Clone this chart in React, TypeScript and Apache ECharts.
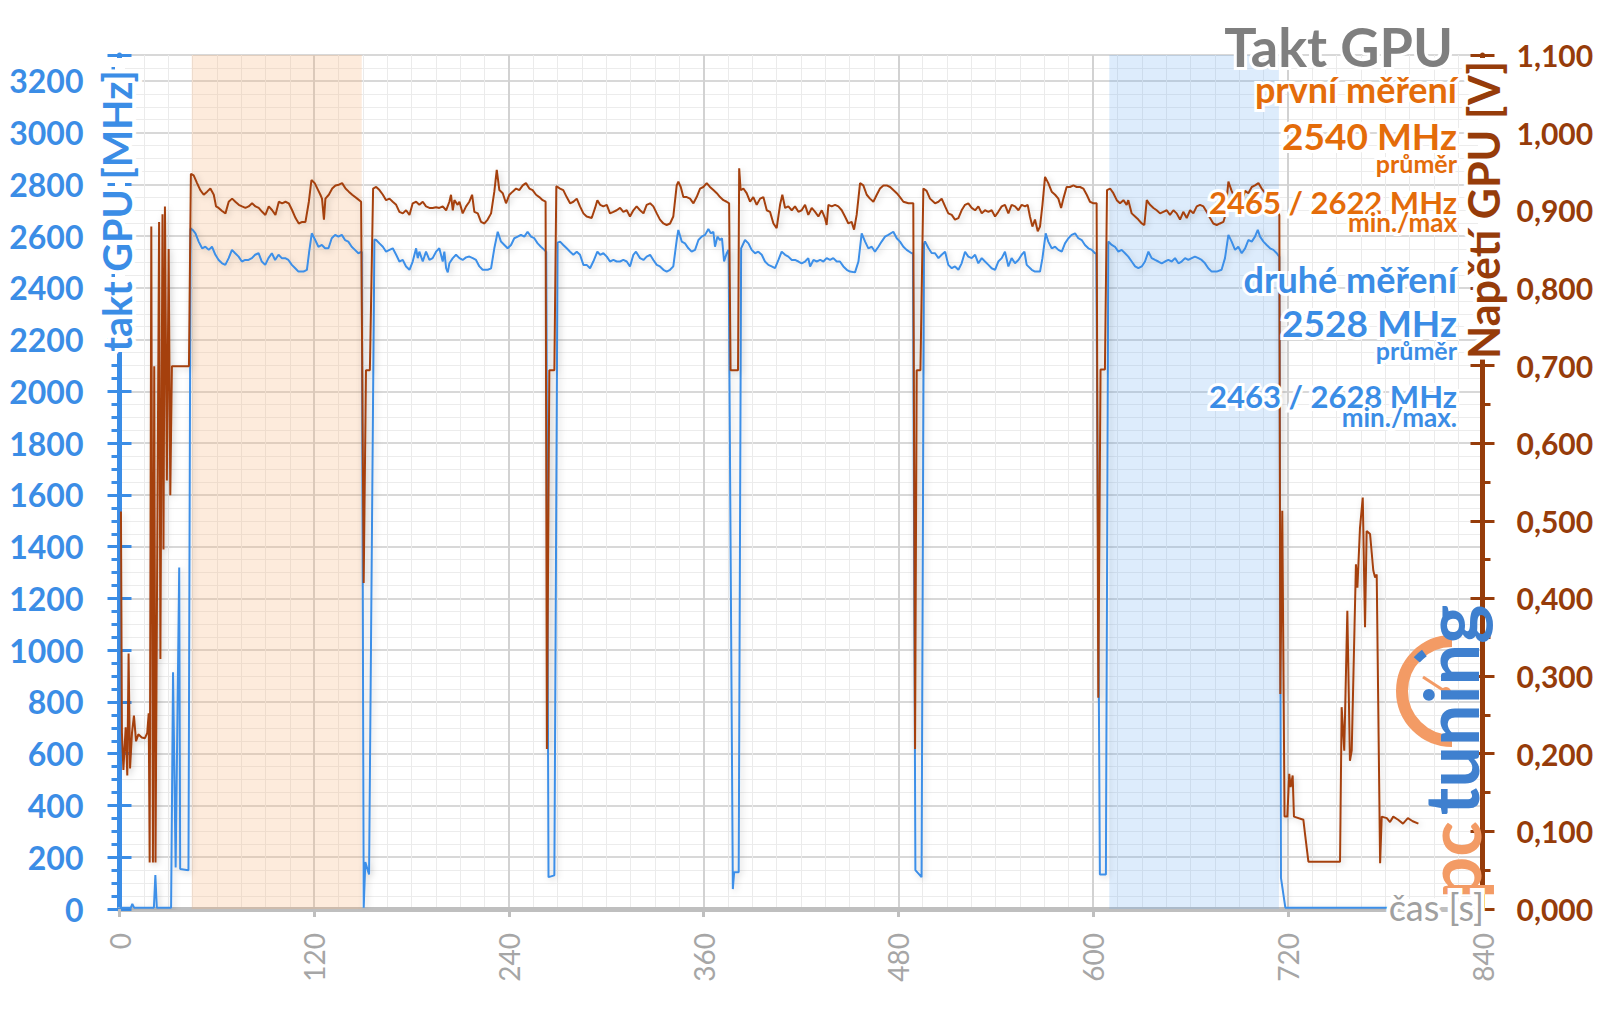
import React, { useEffect, useRef } from "react";
import * as echarts from "echarts";

type P = [number, number];

// ---------- GPU clock, second run [s, MHz] ----------
const clockIdleStart: P[] = [[0, 5], [7, 5], [7.9, 20], [9, 5], [21.2, 5], [22.1, 131], [23, 5], [31.8, 5], [33, 915], [34.6, 160], [36.8, 1320], [37.4, 155], [42.5, 150]];
const clockRun1: P[] = [[43.8, 2630], [45.1, 2624], [46.8, 2611], [48.8, 2579], [50.9, 2553], [52.9, 2559], [55, 2547], [57, 2559], [59.1, 2528], [61.1, 2508], [63.2, 2495], [65.2, 2489], [67.3, 2515], [69.3, 2547], [71.3, 2534], [73.4, 2521], [75.4, 2502], [77.5, 2508], [79.5, 2508], [81.6, 2515], [83.6, 2528], [85.7, 2534], [87.7, 2502], [89.8, 2489], [91.8, 2515], [93.9, 2534], [95.9, 2508], [98, 2528], [100, 2515], [102.1, 2515], [104.1, 2508], [106.2, 2489], [108.3, 2476], [110.3, 2463], [113.4, 2463], [115.5, 2470], [116.9, 2540], [118.5, 2611], [120.6, 2585], [122.6, 2559], [124.7, 2566], [126.7, 2553], [128.8, 2553], [130.8, 2592], [132.9, 2605], [134.9, 2598], [137, 2605], [139, 2585], [141, 2579], [143.1, 2559], [145.1, 2547], [147.2, 2534], [149.3, 2540]];
const clockDip1: P[] = [[150.5, 5], [151.5, 181], [153.8, 133]];
const clockRun2: P[] = [[157.1, 2587], [158.2, 2585], [160.2, 2572], [162.3, 2559], [164.3, 2540], [166.4, 2547], [168.4, 2553], [170.5, 2528], [172.5, 2502], [174.6, 2508], [176.6, 2483], [178.7, 2470], [180.7, 2502], [182.8, 2553], [183.8, 2515], [184.8, 2540], [186.9, 2502], [188.9, 2540], [191, 2508], [193, 2515], [195.1, 2540], [197.1, 2553], [199.2, 2502], [200.2, 2540], [201.3, 2476], [202.3, 2460], [203.3, 2495], [205.4, 2515], [207.4, 2528], [209.5, 2515], [211.5, 2508], [213.6, 2518], [215.6, 2521], [217.7, 2515], [219.7, 2508], [221.8, 2483], [223.8, 2470], [226.9, 2470], [229, 2476], [231, 2553], [233.1, 2617], [235.1, 2579], [237.2, 2566], [239.2, 2553], [241.3, 2566], [243.3, 2592], [245.4, 2598], [247.4, 2605], [249.5, 2598], [251.5, 2617], [253.6, 2598], [255.6, 2592], [257.7, 2572], [259.7, 2559], [261.8, 2547], [263, 2540]];
const clockDip2: P[] = [[264.4, 123], [268, 130]];
const clockRun3: P[] = [[270, 2575], [271.5, 2579], [273.5, 2566], [275.6, 2553], [277.7, 2540], [279.7, 2528], [281.8, 2540], [283.8, 2528], [285.9, 2489], [287.9, 2489], [290, 2476], [292, 2502], [294.5, 2540], [296.2, 2528], [298.2, 2534], [300.3, 2521], [302.3, 2502], [304.4, 2508], [306.4, 2502], [308.5, 2502], [310.5, 2508], [312.6, 2502], [314.6, 2483], [316.7, 2528], [318.3, 2540], [320.8, 2515], [322.9, 2508], [324.9, 2521], [327, 2528], [329, 2508], [331.1, 2489], [333.1, 2483], [335.2, 2470], [337.2, 2463], [339.3, 2470], [341.3, 2483], [343.4, 2585], [344.4, 2624], [346.5, 2579], [348.5, 2572], [350.6, 2553], [352.6, 2540], [354.7, 2547], [356.8, 2585], [358.8, 2598], [360.9, 2605], [362.9, 2628], [364.4, 2611], [366, 2617], [367, 2559], [368.5, 2598], [370.1, 2585], [371.3, 2592], [372.6, 2502], [374.2, 2534], [375.4, 2547]];
const clockDip3: P[] = [[378, 77], [378.8, 142], [381.6, 142]];
const clockRun4: P[] = [[383.1, 2553], [385.5, 2585], [387.6, 2572], [389.6, 2547], [391.7, 2534], [393.7, 2540], [395.8, 2528], [397.8, 2502], [399.9, 2489], [401.9, 2483], [404, 2476], [406.1, 2508], [408.1, 2540], [410.2, 2528], [412.2, 2521], [414.3, 2508], [416.3, 2508], [418.4, 2502], [420.4, 2495], [422.5, 2502], [424.5, 2515], [425.6, 2483], [427.7, 2508], [429.7, 2502], [431.8, 2508], [433.8, 2502], [435.8, 2515], [437.9, 2508], [439.9, 2515], [442, 2502], [444, 2502], [446.1, 2483], [448.2, 2470], [450.2, 2463], [453.3, 2460], [455.4, 2502], [457.4, 2611], [459.5, 2579], [461.5, 2553], [463.6, 2559], [465.6, 2540], [467.7, 2559], [469.7, 2579], [471.8, 2598], [473.8, 2605], [476.9, 2617], [479, 2592], [481, 2579], [483.1, 2559], [485.1, 2547], [488.2, 2534], [489, 2534]];
const clockDip4: P[] = [[490.5, 150], [494.3, 123]];
const clockRun5: P[] = [[495.8, 2570], [496.4, 2580], [498.5, 2554], [500.5, 2535], [502.6, 2534], [504.7, 2515], [506.7, 2528], [508.8, 2540], [510.8, 2489], [512.9, 2476], [514.9, 2483], [517, 2470], [519, 2495], [521.1, 2540], [523.1, 2521], [525.2, 2515], [527.3, 2528], [529.3, 2495], [531.4, 2515], [533.4, 2502], [535.5, 2489], [537.5, 2476], [539.6, 2470], [541.6, 2502], [543.7, 2515], [545.7, 2540], [547.8, 2483], [549.8, 2515], [551.9, 2495], [554, 2508], [556, 2528], [557.7, 2540], [559.1, 2489], [562.2, 2470], [564.2, 2463], [567.3, 2463], [568.8, 2515], [570.8, 2611], [572.4, 2579], [574.5, 2553], [576.6, 2559], [578.6, 2547], [580.7, 2540], [582.7, 2572], [584.8, 2592], [586.8, 2605], [588.9, 2611], [590.9, 2592], [593, 2585], [595, 2566], [597.1, 2553], [599.2, 2547], [601.2, 2534], [602, 2534]];
const clockDip5: P[] = [[604.2, 133], [607.9, 133]];
const clockRun6: P[] = [[609.4, 2579], [611.5, 2566], [613.5, 2559], [615.6, 2540], [617.6, 2547], [619.7, 2534], [621.7, 2521], [623.8, 2502], [625.9, 2483], [627.9, 2476], [630, 2483], [632, 2502], [634.1, 2540], [636.1, 2515], [638.2, 2508], [640.2, 2502], [642.3, 2495], [644.3, 2502], [646.4, 2508], [648.5, 2502], [650.5, 2515], [652.6, 2495], [654.6, 2502], [656.7, 2515], [658.7, 2508], [660.8, 2515], [662.8, 2521], [664.9, 2515], [666.9, 2508], [669, 2495], [671, 2476], [673.1, 2463], [676.2, 2463], [679.2, 2470], [681.3, 2515], [683.4, 2605], [685.4, 2579], [687.5, 2547], [689.5, 2559], [691.6, 2534], [693.7, 2553], [695.7, 2585], [697.8, 2579], [699.8, 2598], [701.5, 2624], [702.9, 2598], [705, 2579], [707, 2566], [709.1, 2553], [711.1, 2547], [713.2, 2534], [714.8, 2520]];
const clockIdleEnd: P[] = [[715.8, 120], [718.5, 5], [800.5, 5]];

// ---------- GPU voltage [s, V] ----------
const voltIdleStart: P[] = [[0.9, 0.512], [1.5, 0.227], [2.4, 0.179], [3.8, 0.234], [4.8, 0.172], [5.6, 0.329], [6.5, 0.181], [7.7, 0.227], [8.9, 0.249], [10.2, 0.216], [11.6, 0.225], [13.7, 0.221], [15.7, 0.22], [17.1, 0.227], [18, 0.252], [18.6, 0.06], [19.6, 0.879], [20.6, 0.06], [21.4, 0.699], [22.2, 0.06], [24.4, 0.885], [25.2, 0.322], [26.5, 0.895], [27.1, 0.463], [28, 0.905], [29.2, 0.552], [30.3, 0.85], [31.3, 0.533], [32.3, 0.699], [42.8, 0.699]];
const voltRun1: P[] = [[44, 0.947], [45.7, 0.945], [47.8, 0.935], [49.8, 0.926], [51.9, 0.92], [54, 0.924], [56, 0.928], [58.1, 0.92], [59.5, 0.905], [61.1, 0.903], [63.2, 0.899], [65.3, 0.896], [67.3, 0.911], [69.4, 0.915], [71.4, 0.911], [73.5, 0.907], [75.5, 0.905], [77.6, 0.903], [79.6, 0.905], [81.7, 0.909], [83.8, 0.905], [85.8, 0.903], [87.9, 0.898], [89.9, 0.894], [92, 0.905], [94.1, 0.9], [96.1, 0.894], [98.2, 0.911], [100.2, 0.909], [102.3, 0.911], [104.3, 0.909], [106.4, 0.9], [108.5, 0.89], [110.5, 0.883], [112.6, 0.885], [114.6, 0.885], [116.7, 0.911], [118.3, 0.939], [120.3, 0.935], [122.4, 0.926], [123.8, 0.92], [124.8, 0.915], [126, 0.888], [126.9, 0.915], [129, 0.92], [131.1, 0.928], [133.1, 0.932], [135.2, 0.933], [137.2, 0.935], [139.3, 0.928], [141.3, 0.924], [143.4, 0.92], [146.5, 0.915], [148.9, 0.911]];
const voltDip1: P[] = [[150.5, 0.42], [151.9, 0.694], [154.3, 0.694]];
const voltRun2: P[] = [[156.3, 0.928], [158.2, 0.93], [160.2, 0.926], [162.3, 0.92], [164.3, 0.913], [166.4, 0.915], [168.4, 0.911], [170.5, 0.907], [172.5, 0.898], [174.6, 0.896], [176.6, 0.9], [178.7, 0.894], [180.7, 0.909], [182.8, 0.911], [184.8, 0.907], [186.9, 0.911], [188.9, 0.905], [191, 0.903], [193, 0.903], [195.1, 0.904], [197.1, 0.903], [199.2, 0.905], [201.3, 0.9], [203.3, 0.911], [204.3, 0.92], [205.4, 0.9], [206.4, 0.913], [208.4, 0.907], [209.5, 0.911], [211.5, 0.896], [213.6, 0.905], [215.6, 0.911], [217.3, 0.92], [218.7, 0.898], [220.8, 0.896], [222.8, 0.885], [224.9, 0.883], [226.9, 0.888], [229, 0.896], [231, 0.924], [232.5, 0.952], [234.1, 0.926], [236.2, 0.922], [238.2, 0.909], [240.3, 0.92], [242.3, 0.924], [244.4, 0.928], [246.4, 0.926], [248.5, 0.932], [250.5, 0.935], [252.6, 0.928], [254.6, 0.926], [256.7, 0.92], [258.7, 0.917], [260.8, 0.913], [262.6, 0.911]];
const voltDip2: P[] = [[263.4, 0.206], [264.9, 0.694], [268, 0.694]];
const voltRun3: P[] = [[269.2, 0.931], [271.5, 0.928], [273.5, 0.926], [275.6, 0.917], [277.7, 0.909], [279.7, 0.911], [281.8, 0.915], [283.8, 0.905], [285.9, 0.896], [287.9, 0.892], [291, 0.89], [293.1, 0.903], [294.5, 0.913], [296.2, 0.907], [298.2, 0.905], [300.3, 0.907], [302.3, 0.896], [304.4, 0.898], [306.4, 0.9], [308.5, 0.903], [310.5, 0.898], [312.6, 0.9], [314.6, 0.892], [316.7, 0.9], [318.7, 0.905], [320.8, 0.9], [322.9, 0.896], [324.9, 0.907], [327, 0.909], [329, 0.905], [331.1, 0.896], [333.1, 0.888], [335.2, 0.883], [337.2, 0.881], [339.3, 0.883], [341.3, 0.892], [343.4, 0.932], [344.4, 0.937], [345.9, 0.93], [347.5, 0.917], [349.6, 0.917], [351.6, 0.915], [353.7, 0.909], [355.7, 0.917], [357.8, 0.928], [359.8, 0.93], [361.9, 0.935], [363.9, 0.93], [366, 0.926], [368.1, 0.922], [370.1, 0.917], [372.2, 0.913], [374.2, 0.911], [375.7, 0.909]];
const voltDip3: P[] = [[376.6, 0.694], [381.2, 0.694]];
const voltRun4: P[] = [[381.9, 0.954], [382.8, 0.926], [384.5, 0.928], [386.5, 0.922], [388.6, 0.911], [390.6, 0.917], [392.7, 0.907], [394.8, 0.915], [396.8, 0.917], [398.9, 0.9], [400.9, 0.898], [403, 0.883], [405, 0.877], [407.1, 0.907], [408.5, 0.92], [410.2, 0.903], [412.2, 0.905], [414.3, 0.9], [416.3, 0.905], [418.4, 0.898], [420.4, 0.9], [422.5, 0.907], [424.5, 0.894], [426.6, 0.903], [428.7, 0.898], [430.7, 0.892], [432.8, 0.9], [434.8, 0.89], [435.8, 0.881], [436.9, 0.907], [438.9, 0.905], [441, 0.907], [443, 0.905], [445.1, 0.9], [447.1, 0.892], [449.2, 0.883], [451.2, 0.885], [452.7, 0.875], [454.3, 0.894], [456.4, 0.935], [458.4, 0.932], [460.5, 0.92], [462.5, 0.915], [464.6, 0.911], [466.7, 0.92], [468.7, 0.928], [470.8, 0.932], [472.8, 0.932], [474.9, 0.93], [476.9, 0.926], [479, 0.922], [481, 0.917], [483.1, 0.911], [486.2, 0.909], [489.2, 0.909]];
const voltDip4: P[] = [[490.3, 0.206], [491.3, 0.694], [493.6, 0.694]];
const voltRun5: P[] = [[495.4, 0.928], [497.4, 0.925], [499.5, 0.915], [502.6, 0.909], [504.7, 0.911], [506.7, 0.915], [508.8, 0.905], [510.8, 0.896], [512.9, 0.894], [514.9, 0.888], [517, 0.89], [519, 0.9], [521.1, 0.907], [523.1, 0.909], [525.2, 0.903], [527.3, 0.9], [529.3, 0.905], [531.4, 0.896], [533.4, 0.9], [535.5, 0.898], [537.5, 0.9], [539.6, 0.892], [541.6, 0.898], [543.7, 0.905], [545.7, 0.907], [547.8, 0.896], [549.8, 0.907], [551.9, 0.905], [554, 0.9], [556, 0.907], [558.1, 0.905], [559.7, 0.907], [561.1, 0.892], [562.6, 0.879], [564.2, 0.888], [565.9, 0.873], [567.3, 0.879], [568.8, 0.907], [570.4, 0.943], [572.4, 0.935], [574.5, 0.924], [576.6, 0.92], [578.6, 0.915], [580.3, 0.903], [581.7, 0.915], [583.7, 0.93], [585.8, 0.93], [587.9, 0.932], [589.9, 0.93], [592, 0.93], [594, 0.928], [596.1, 0.92], [598.1, 0.911], [600.2, 0.909], [602.2, 0.909]];
const voltDip5: P[] = [[603.2, 0.272], [604.6, 0.695], [607.3, 0.695]];
const voltRun6: P[] = [[608.6, 0.926], [610.5, 0.928], [612.5, 0.922], [614.6, 0.913], [616.6, 0.909], [618.7, 0.913], [620.7, 0.907], [621.7, 0.913], [623.8, 0.896], [625.9, 0.892], [627.9, 0.888], [630, 0.883], [631.6, 0.881], [633.1, 0.913], [635.1, 0.907], [637.2, 0.903], [639.2, 0.9], [641.3, 0.896], [643.3, 0.898], [645.4, 0.9], [647.4, 0.894], [649.5, 0.9], [651.5, 0.896], [653.6, 0.888], [655.6, 0.898], [657.7, 0.89], [659.8, 0.9], [661.8, 0.896], [663.9, 0.905], [665.9, 0.907], [668, 0.905], [670, 0.898], [672.1, 0.89], [674.1, 0.883], [676.2, 0.881], [678.2, 0.883], [680.3, 0.885], [681.3, 0.892], [683.4, 0.937], [685.4, 0.925], [687.5, 0.915], [689.5, 0.92], [691.6, 0.912], [693.7, 0.925], [695.7, 0.922], [697.8, 0.93], [699.8, 0.932], [701.9, 0.935], [703.9, 0.928], [706, 0.922], [708, 0.918], [710.1, 0.913], [712.2, 0.911], [713.6, 0.905], [714.8, 0.893]];
const voltIdleEnd: P[] = [[715.4, 0.277], [716.6, 0.513], [718, 0.119], [719.7, 0.119], [720.9, 0.174], [721.8, 0.157], [723, 0.172], [723.8, 0.119], [729.6, 0.115], [730.6, 0.097], [732.7, 0.061], [752.2, 0.061], [753.2, 0.26], [754.8, 0.204], [756.7, 0.384], [758.3, 0.191], [759.4, 0.204], [762, 0.444], [762.9, 0.414], [764.5, 0.491], [766.2, 0.53], [767.6, 0.363], [768.6, 0.487], [770.7, 0.483], [772.7, 0.436], [773.8, 0.427], [774.8, 0.431], [776.9, 0.059], [777.9, 0.119], [781, 0.117], [783, 0.112], [785, 0.119], [788, 0.115], [791, 0.11], [794, 0.117], [797, 0.113], [800.5, 0.11]];

// measurement windows [s]
const windowFirst: P = [44.5, 149.3];
const windowSecond: P = [610, 714.5];

// texts
const chartTitle = "Takt GPU";
const firstRunTexts = ["první měření", "2540 MHz", "průměr", "2465 / 2622 MHz", "min./max"];
const secondRunTexts = ["druhé měření", "2528 MHz", "průměr", "2463 / 2628 MHz", "min./max."];
const leftAxisName = "takt GPU [MHz]";
const rightAxisName = "Napětí GPU [V]";
const xAxisName = "čas [s]";
const logoParts = ["pc", "tuning"];

const clockData: P[] = [...clockIdleStart, ...clockRun1, ...clockDip1, ...clockRun2, ...clockDip2, ...clockRun3, ...clockDip3, ...clockRun4, ...clockDip4, ...clockRun5, ...clockDip5, ...clockRun6, ...clockIdleEnd];
const voltData: P[] = [...voltIdleStart, ...voltRun1, ...voltDip1, ...voltRun2, ...voltDip2, ...voltRun3, ...voltDip3, ...voltRun4, ...voltDip4, ...voltRun5, ...voltDip5, ...voltRun6, ...voltIdleEnd];

const F = "Lato, 'Open Sans', sans-serif";
const BLUE = "#3b8de6";
const BROWN = "#963c0a";
const ORANGE = "#e46c0a";
const GRAY = "#7f7f7f";

function txt(x: number, y: number, text: string, size: number, fill: string, opts: any = {}) {
  return {
    type: "text",
    x,
    y,
    rotation: opts.rotation || 0,
    z: 100,
    silent: true,
    style: {
      text,
      x: 0,
      y: 0,
      font: `${opts.weight || "bold"} ${size}px ${F}`,
      fill,
      stroke: "#fff",
      lineWidth: opts.halo ?? 6,
      textAlign: opts.align || "right",
      textVerticalAlign: "middle",
    },
  };
}

const RX = 1457;

const graphics: any[] = [
  // cover axis lines under axis names
  { type: "rect", z: 90, silent: true, shape: { x: 115, y: 58, width: 10, height: 292 }, style: { fill: "#fff" } },
  { type: "rect", z: 90, silent: true, shape: { x: 1478, y: 58, width: 10, height: 298 }, style: { fill: "#fff" } },
  txt(116, 211, leftAxisName, 39.5, BLUE, { rotation: Math.PI / 2, align: "center", halo: 8 }),
  txt(1483, 210, rightAxisName, 43, BROWN, { rotation: Math.PI / 2, align: "center", halo: 8 }),
  txt(1484, 907, xAxisName, 36, "#a0a0a0", { weight: "normal", halo: 8 }),
  txt(1453, 46, chartTitle, 54, GRAY),
  txt(RX, 89, firstRunTexts[0], 36, ORANGE),
  txt(RX, 135, firstRunTexts[1], 37, ORANGE),
  txt(RX, 163, firstRunTexts[2], 25, ORANGE),
  txt(RX, 202, firstRunTexts[3], 31, ORANGE),
  txt(RX, 222, firstRunTexts[4], 26, ORANGE),
  txt(RX, 279, secondRunTexts[0], 36, BLUE),
  txt(RX, 322, secondRunTexts[1], 37, BLUE),
  txt(RX, 350, secondRunTexts[2], 25, BLUE),
  txt(RX, 396, secondRunTexts[3], 31, BLUE),
  txt(RX, 417, secondRunTexts[4], 26, BLUE),
  // logo
  { type: "arc", z: 95, silent: true, shape: { cx: 1452, cy: 691, r: 50, startAngle: Math.PI * 0.5, endAngle: Math.PI * 1.5 }, style: { stroke: "#f39b65", lineWidth: 12, fill: "none" } },
  { type: "arc", z: 96, silent: true, shape: { cx: 1452, cy: 691, r: 47, startAngle: Math.PI * 1.23, endAngle: Math.PI * 1.3 }, style: { stroke: "#3f80cf", lineWidth: 8, fill: "none" } },
  { type: "line", z: 96, silent: true, shape: { x1: 1446, y1: 692, x2: 1423, y2: 677 }, style: { stroke: "#f39b65", lineWidth: 3 } },
  { type: "circle", z: 96, silent: true, shape: { cx: 1446, cy: 692, r: 5 }, style: { fill: "#f39b65" } },
  { type: "text", z: 97, silent: true, x: 1450, y: 710, rotation: Math.PI / 2, style: { text: logoParts[1], x: 0, y: 0, font: `bold 74px ${F}`, fill: "#3f80cf", textAlign: "center", textVerticalAlign: "middle" } },
  { type: "text", z: 97, silent: true, x: 1452, y: 860, rotation: Math.PI / 2, style: { text: logoParts[0], x: 0, y: 0, font: `bold 74px ${F}`, fill: "#f39b65", textAlign: "center", textVerticalAlign: "middle" } },
];

const lineShadow = { shadowColor: "rgba(0,0,0,0.18)", shadowBlur: 6, shadowOffsetX: 2, shadowOffsetY: 2 };

const option: any = {
  animation: false,
  backgroundColor: "#ffffff",
  grid: { left: 119.5, right: 117.5, top: 55, bottom: 100, containLabel: false },
  xAxis: {
    type: "value",
    min: 0,
    max: 840,
    interval: 120,
    axisLine: { lineStyle: { color: "#bfbfbf", width: 5 } },
    axisTick: { show: true, length: 8, lineStyle: { color: "#bfbfbf", width: 3 } },
    minorTick: { show: false, splitNumber: 8 },
    axisLabel: { rotate: 90, margin: 24, color: "#a6a6a6", fontSize: 28, fontFamily: F },
    splitLine: { show: true, lineStyle: { color: "#d2d2d2", width: 2 } },
    minorSplitLine: { show: true, lineStyle: { color: "#ebebeb", width: 1 } },
  },
  yAxis: [
    {
      type: "value",
      position: "left",
      min: 0,
      max: 3300,
      interval: 200,
      axisLine: { show: true, lineStyle: { color: BLUE, width: 5 } },
      axisTick: { show: true, length: 12, lineStyle: { color: BLUE, width: 3 } },
      minorTick: { show: true, splitNumber: 4, length: 8, lineStyle: { color: BLUE, width: 3 } },
      axisLabel: { margin: 36, color: BLUE, fontSize: 32, fontWeight: "bold", fontFamily: F, showMaxLabel: false, formatter: (v: number) => String(v), textBorderColor: "#fff", textBorderWidth: 4 },
      splitLine: { show: true, lineStyle: { color: "#d8d8d8", width: 2 } },
      minorSplitLine: { show: true, lineStyle: { color: "#ececec", width: 1 } },
    },
    {
      type: "value",
      position: "right",
      min: 0,
      max: 1.1,
      interval: 0.1,
      axisLine: { show: true, lineStyle: { color: BROWN, width: 5 } },
      axisTick: { show: true, length: 12, lineStyle: { color: BROWN, width: 3 } },
      minorTick: { show: true, splitNumber: 2, length: 8, lineStyle: { color: BROWN, width: 3 } },
      axisLabel: { margin: 34, color: BROWN, fontSize: 30, fontWeight: "bold", fontFamily: F, formatter: (v: number) => v.toFixed(3).replace(".", ","), textBorderColor: "#fff", textBorderWidth: 4 },
      splitLine: { show: false },
    },
    {
      type: "value",
      position: "left",
      min: 0,
      max: 3300,
      interval: 200,
      axisLine: { show: false },
      axisTick: { show: true, inside: true, length: 12, lineStyle: { color: BLUE, width: 3 } },
      axisLabel: { show: false },
      splitLine: { show: false },
    },
    {
      type: "value",
      position: "right",
      min: 0,
      max: 1.1,
      interval: 0.1,
      axisLine: { show: false },
      axisTick: { show: true, inside: true, length: 12, lineStyle: { color: BROWN, width: 3 } },
      axisLabel: { show: false },
      splitLine: { show: false },
    },
  ],
  series: [
    {
      type: "line",
      name: "windows",
      yAxisIndex: 0,
      data: [],
      z: 1,
      silent: true,
      markArea: {
        silent: true,
        data: [
          [{ xAxis: windowFirst[0], itemStyle: { color: "rgba(248,176,120,0.26)" } }, { xAxis: windowFirst[1] }],
          [{ xAxis: windowSecond[0], itemStyle: { color: "rgba(100,170,240,0.22)" } }, { xAxis: windowSecond[1] }],
        ],
      },
    },
    {
      type: "line",
      name: "takt",
      yAxisIndex: 0,
      data: clockData,
      showSymbol: false,
      z: 3,
      lineStyle: { color: "#3c8fe8", width: 2, ...lineShadow },
    },
    {
      type: "line",
      name: "napětí",
      yAxisIndex: 1,
      data: voltData,
      showSymbol: false,
      z: 4,
      lineStyle: { color: "#a5410f", width: 2, ...lineShadow },
    },
  ],
  graphic: graphics,
};

export default function App() {
  const ref = useRef<HTMLDivElement>(null);
  useEffect(() => {
    const chart = echarts.init(ref.current!, undefined, { renderer: "svg" });
    chart.setOption(option);
    return () => chart.dispose();
  }, []);
  return <div ref={ref} style={{ position: "fixed", left: 0, top: 0, width: 1600, height: 1009, background: "#fff" }} />;
}
